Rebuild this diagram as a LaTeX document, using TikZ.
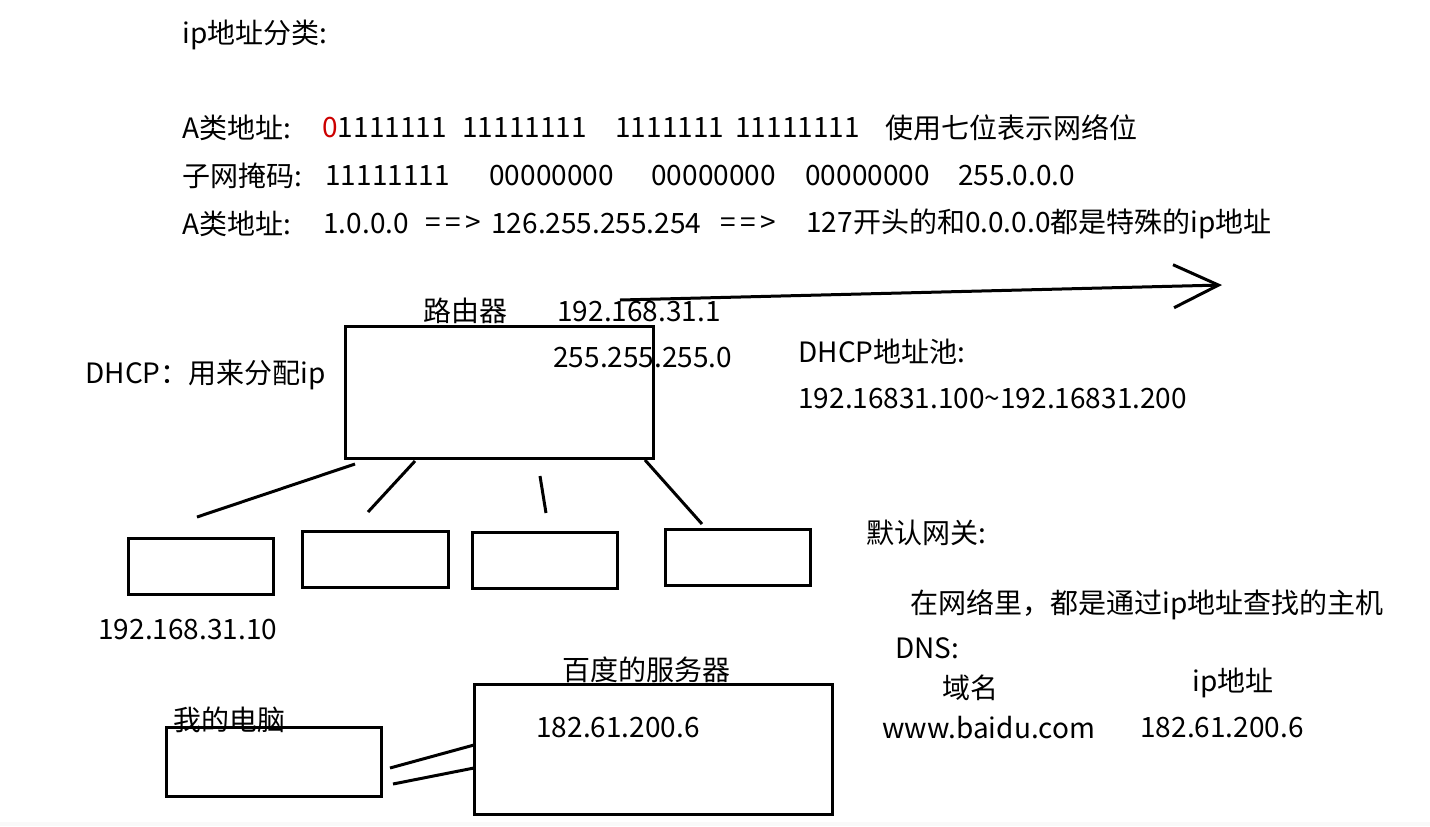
\documentclass[tikz,border=0pt]{standalone}
\usepackage{fontspec}
\setmainfont{Noto Sans CJK SC}
\usetikzlibrary{arrows.meta}

\begin{document}
\begin{tikzpicture}[x=0.5pt, y=-0.5pt,
    every node/.style={font=\fontsize{14}{16}\selectfont},
    lbl/.style={anchor=west, inner sep=0pt},
    box/.style={draw, line width=1.5pt, inner sep=0pt, minimum width=72.5pt, minimum height=28pt},
    wire/.style={line width=1.5pt}]

    % --- 1. 描画範囲 ---
    \useasboundingbox (0, 0) rectangle (1430, 826);
    \fill[gray!5] (0, 822) rectangle (1430, 826);

    % --- 2. IP アドレスの分類 ---
    \node[lbl] (title) at (182, 35) {ip地址分类:};

    % A 类地址 (2進表記)
    \node[lbl] (aName) at (182, 128) {A类地址:};
    \node[lbl] (aOct1) at (322, 128) {{\color{red!80!black}0}1111111};
    \node[lbl] (aOct2) at (462, 128) {11111111};
    \node[lbl] (aOct3) at (615, 128) {1111111};
    \node[lbl] (aOct4) at (735, 128) {11111111};
    \node[lbl] (aNote) at (885, 128) {使用七位表示网络位};

    % 子网掩码
    \node[lbl] (mName) at (182, 176) {子网掩码:};
    \node[lbl] (mOct1) at (325, 176) {11111111};
    \node[lbl] (mOct2) at (489, 176) {00000000};
    \node[lbl] (mOct3) at (651, 176) {00000000};
    \node[lbl] (mOct4) at (805, 176) {00000000};
    \node[lbl] (mDec)  at (958, 176) {255.0.0.0};

    % A 类地址の範囲
    \node[lbl] (rName)  at (182, 224) {A类地址:};
    \node[lbl] (rFrom)  at (323, 224) {1.0.0.0};
    \node[lbl] (rArr1)  at (425, 224) {=\,=\,>};
    \node[lbl] (rTo)    at (491, 224) {126.255.255.254};
    \node[lbl] (rArr2)  at (720, 224) {=\,=\,>};
    \node[lbl] (rNote)  at (806, 224) {127开头的和0.0.0.0都是特殊的ip地址};

    % --- 3. 長い矢印 ---
    \coordinate (ArrS) at (620, 300);
    \coordinate (ArrE) at (1222, 285);
    \draw[wire, -{Straight Barb[length=22.5pt, width=21.5pt, line width=1.5pt]}] (ArrS) -- (ArrE);

    % --- 4. 路由器と DHCP ---
    \node[box, minimum width=154pt, minimum height=66pt] (router) at (499, 392) {};
    \node[lbl] (routerName) at (423, 311) {路由器};
    \node[lbl] (routerIp)   at (557, 312) {192.168.31.1};
    \node[lbl] (routerMask) at (553, 358) {255.255.255.0};
    \node[lbl] (dhcp)       at (85, 375)  {DHCP：用来分配ip};
    \node[lbl] (poolName)   at (798, 352) {DHCP地址池:};
    \node[lbl] (poolRange)  at (798, 399) {192.16831.100\textasciitilde 192.16831.200};

    % --- 5. 端末 4 台 ---
    \node[box] (host1) at (200.5, 566) {};
    \node[box, minimum width=73pt] (host2) at (375, 559) {};
    \node[box] (host3) at (544.5, 560) {};
    \node[box] (host4) at (737.5, 557) {};
    \node[lbl] (host1Ip) at (98, 630) {192.168.31.10};

    % 路由器からの配線 (途切れた線)
    \draw[wire] (355, 464) -- (197, 517);
    \draw[wire] (415, 461) -- (368, 512);
    \draw[wire] (540, 476) -- (546, 513);
    \draw[wire] (645, 460) -- (702, 524);

    % --- 6. 默认网关と DNS ---
    \node[lbl] (gateway) at (866, 533)  {默认网关:};
    \node[lbl] (lookup)  at (910, 605)  {在网络里，都是通过ip地址查找的主机};
    \node[lbl] (dns)     at (895, 648)  {DNS:};
    \node[lbl] (colName) at (942, 688)  {域名};
    \node[lbl] (colIp)   at (1192, 683) {ip地址};
    \node[lbl] (domain)  at (882, 728)  {www.baidu.com};
    \node[lbl] (domIp)   at (1140, 728) {182.61.200.6};

    % --- 7. 我的电脑と百度的服务器 ---
    \node[box, minimum width=179pt, minimum height=65pt] (server) at (653, 749) {};
    \node[lbl] (serverName) at (562, 670) {百度的服务器};
    \node[lbl] (serverIp)   at (536, 728) {182.61.200.6};
    \node[box, minimum width=107.5pt, minimum height=34.5pt] (pc) at (273.5, 761.5) {};
    \node[lbl] (pcName) at (173, 720) {我的电脑};

    % 2 本の接続線
    \draw[wire] (390, 768) -- (474, 745);
    \draw[wire] (393, 784) -- (474, 768);

  \end{tikzpicture}
\end{document}
